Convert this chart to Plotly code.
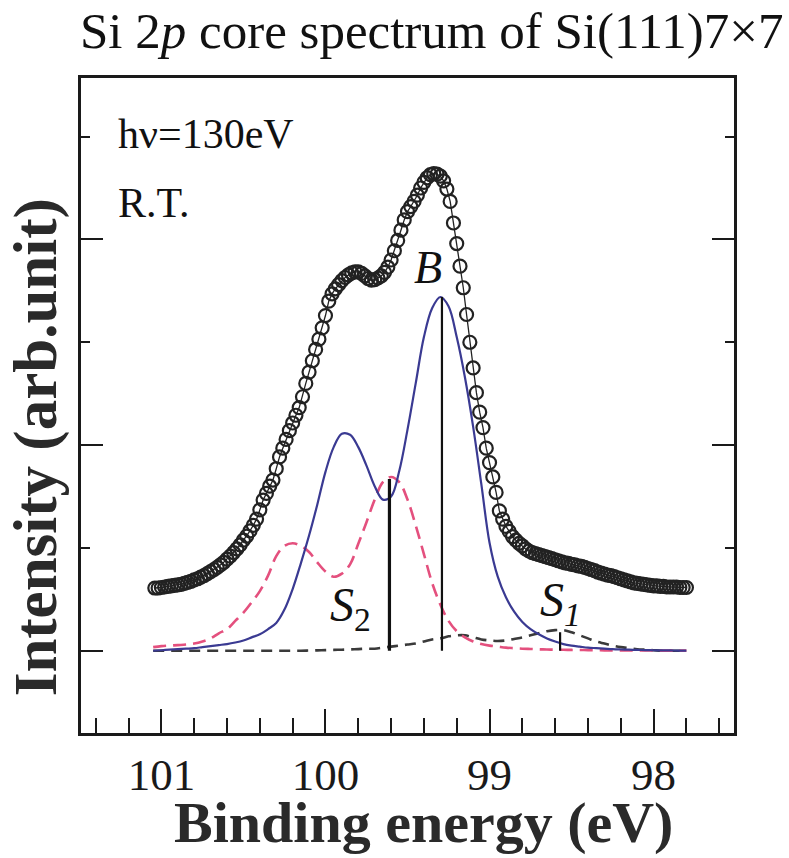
import plotly.graph_objects as go

# ---------------- data ----------------
# measured Si 2p spectrum (open circles); binding energy in eV, intensity in tick units
data_E = [101.04, 101.02, 101.00, 100.98, 100.96, 100.94, 100.92, 100.90, 100.88, 100.86,
          100.84, 100.82, 100.80, 100.78, 100.76, 100.74, 100.72, 100.70, 100.68, 100.66,
          100.64, 100.62, 100.60, 100.58, 100.56, 100.54, 100.52, 100.50, 100.48, 100.46,
          100.44, 100.42, 100.40, 100.38, 100.36, 100.34, 100.32, 100.30, 100.28, 100.26,
          100.24, 100.22, 100.20, 100.18, 100.16, 100.14, 100.12, 100.10, 100.08, 100.06,
          100.04, 100.02, 100.00, 99.98, 99.96, 99.94, 99.92, 99.90, 99.88, 99.86,
          99.84, 99.82, 99.80, 99.78, 99.76, 99.74, 99.72, 99.70, 99.68, 99.66,
          99.64, 99.62, 99.60, 99.58, 99.56, 99.54, 99.52, 99.50, 99.48, 99.46,
          99.44, 99.42, 99.40, 99.38, 99.36, 99.34, 99.32, 99.30, 99.28, 99.26,
          99.24, 99.22, 99.20, 99.18, 99.16, 99.14, 99.12, 99.10, 99.08, 99.06,
          99.04, 99.02, 99.00, 98.98, 98.96, 98.94, 98.92, 98.90, 98.88, 98.86,
          98.84, 98.82, 98.80, 98.78, 98.76, 98.74, 98.72, 98.70, 98.68, 98.66,
          98.64, 98.62, 98.60, 98.58, 98.56, 98.54, 98.52, 98.50, 98.48, 98.46,
          98.44, 98.42, 98.40, 98.38, 98.36, 98.34, 98.32, 98.30, 98.28, 98.26,
          98.24, 98.22, 98.20, 98.18, 98.16, 98.14, 98.12, 98.10, 98.08, 98.06,
          98.04, 98.02, 98.00, 97.98, 97.96, 97.94, 97.92, 97.90, 97.88, 97.86,
          97.84, 97.82, 97.80]
data_I = [0.61, 0.61, 0.615, 0.62, 0.625, 0.63, 0.635, 0.64, 0.645, 0.655,
          0.665, 0.675, 0.69, 0.70, 0.715, 0.73, 0.75, 0.77, 0.79, 0.81,
          0.835, 0.86, 0.89, 0.92, 0.955, 0.99, 1.03, 1.075, 1.115, 1.165,
          1.22, 1.28, 1.37, 1.465, 1.53, 1.60, 1.66, 1.77, 1.885, 1.97,
          2.055, 2.14, 2.215, 2.29, 2.365, 2.47, 2.60, 2.71, 2.82, 2.93,
          3.03, 3.14, 3.26, 3.40, 3.47, 3.52, 3.56, 3.60, 3.63, 3.655,
          3.675, 3.685, 3.685, 3.67, 3.645, 3.62, 3.605, 3.61, 3.625, 3.645,
          3.68, 3.73, 3.80, 3.89, 3.99, 4.09, 4.19, 4.27, 4.32, 4.37,
          4.43, 4.50, 4.555, 4.60, 4.63, 4.64, 4.635, 4.615, 4.57, 4.49,
          4.37, 4.16, 3.96, 3.74, 3.53, 3.27, 3.00, 2.75, 2.51, 2.32,
          2.17, 1.97, 1.83, 1.69, 1.54, 1.36, 1.28, 1.21, 1.16, 1.11,
          1.075, 1.045, 1.02, 0.99, 0.97, 0.955, 0.945, 0.935, 0.925, 0.915,
          0.905, 0.895, 0.885, 0.875, 0.865, 0.855, 0.85, 0.84, 0.835, 0.825,
          0.82, 0.81, 0.80, 0.79, 0.78, 0.765, 0.755, 0.745, 0.735, 0.73,
          0.72, 0.71, 0.70, 0.69, 0.68, 0.67, 0.66, 0.655, 0.65, 0.645,
          0.64, 0.635, 0.63, 0.63, 0.625, 0.625, 0.62, 0.62, 0.62, 0.62,
          0.615, 0.615, 0.615]

# fitted components, sampled every 0.05 eV
comp_E = [101.05, 101.00, 100.95, 100.90, 100.85, 100.80, 100.75, 100.70, 100.65, 100.60,
          100.55, 100.50, 100.45, 100.40, 100.35, 100.30, 100.25, 100.20, 100.15, 100.10,
          100.05, 100.00, 99.95, 99.90, 99.85, 99.80, 99.75, 99.70, 99.65, 99.60,
          99.55, 99.50, 99.45, 99.40, 99.35, 99.30, 99.25, 99.20, 99.15, 99.10,
          99.05, 99.00, 98.95, 98.90, 98.85, 98.80, 98.75, 98.70, 98.65, 98.60,
          98.55, 98.50, 98.45, 98.40, 98.35, 98.30, 98.25, 98.20, 98.15, 98.10,
          98.05, 98.00, 97.95, 97.90, 97.85, 97.80]
bulk_B = [0.00, 0.005, 0.01, 0.015, 0.02, 0.025, 0.035, 0.045, 0.055, 0.065,
          0.08, 0.10, 0.13, 0.16, 0.21, 0.27, 0.40, 0.60, 0.85, 1.12,
          1.42, 1.74, 1.98, 2.11, 2.10, 1.98, 1.80, 1.60, 1.47, 1.50,
          1.75, 2.15, 2.60, 3.05, 3.33, 3.44, 3.35, 3.05, 2.66, 2.18,
          1.62, 1.05, 0.72, 0.52, 0.38, 0.28, 0.21, 0.16, 0.12, 0.09,
          0.065, 0.05, 0.04, 0.03, 0.025, 0.02, 0.015, 0.012, 0.01, 0.008,
          0.006, 0.005, 0.004, 0.003, 0.002, 0.002]
surf_S2 = [0.035, 0.045, 0.05, 0.055, 0.06, 0.07, 0.09, 0.12, 0.17, 0.21,
           0.29, 0.37, 0.47, 0.58, 0.73, 0.92, 1.02, 1.045, 1.02, 0.96,
           0.86, 0.77, 0.72, 0.75, 0.84, 1.04, 1.25, 1.47, 1.64, 1.69,
           1.64, 1.47, 1.22, 0.94, 0.66, 0.45, 0.29, 0.19, 0.13, 0.09,
           0.065, 0.05, 0.04, 0.03, 0.025, 0.02, 0.017, 0.014, 0.012, 0.01,
           0.009, 0.008, 0.007, 0.006, 0.005, 0.004, 0.004, 0.003, 0.003, 0.002,
           0.002, 0.002, 0.001, 0.001, 0.001, 0.001]
surf_S1 = [0.0, 0.0, 0.0, 0.0, 0.0, 0.0, 0.0, 0.0, 0.0, 0.0,
           0.0, 0.0, 0.0, 0.0, 0.0, 0.0, 0.0, 0.0, 0.0, 0.002,
           0.004, 0.006, 0.008, 0.01, 0.013, 0.016, 0.02, 0.02, 0.03, 0.04,
           0.05, 0.06, 0.07, 0.09, 0.11, 0.12, 0.14, 0.15, 0.15, 0.13,
           0.11, 0.10, 0.095, 0.10, 0.115, 0.13, 0.15, 0.17, 0.19, 0.20,
           0.20, 0.18, 0.15, 0.12, 0.09, 0.07, 0.05, 0.035, 0.025, 0.015,
           0.01, 0.005, 0.0, 0.0, 0.0, 0.0]

# component position sticks
stick_names = ["S2", "B", "S1"]
stick_E = [99.61, 99.29, 98.57]
stick_h = [1.67, 3.44, 0.18]
stick_w = [3.2, 2.2, 2.2]

x_tickvals = [101, 100, 99, 98]
x_ticktext = ["101", "100", "99", "98"]

# ---------------- figure ----------------
SERIF = "Liberation Serif"
fig = go.Figure()

fig.add_trace(go.Scatter(x=comp_E, y=surf_S1, mode="lines",
                         line=dict(color="#3a3a3a", width=2.6, dash="11px,7px", shape="spline"),
                         hoverinfo="skip"))
fig.add_trace(go.Scatter(x=comp_E, y=surf_S2, mode="lines",
                         line=dict(color="#e4507e", width=2.6, dash="13px,7px", shape="spline"),
                         hoverinfo="skip"))
fig.add_trace(go.Scatter(x=comp_E, y=bulk_B, mode="lines",
                         line=dict(color="#3a3a92", width=2.2, shape="spline"),
                         hoverinfo="skip"))
for e, h, w in zip(stick_E, stick_h, stick_w):
    fig.add_trace(go.Scatter(x=[e, e], y=[0, h], mode="lines",
                             line=dict(color="#111111", width=w), hoverinfo="skip"))
fig.add_trace(go.Scatter(x=data_E, y=data_I, mode="lines+markers",
                         line=dict(color="#222222", width=1.3),
                         marker=dict(symbol="circle-open", size=13,
                                     line=dict(color="#57576e", width=2.2)),
                         hoverinfo="skip"))

# labels inside the plot
fig.add_annotation(x=99.376, y=3.73, xref="x", yref="y", text="<i>B</i>", showarrow=False,
                   xanchor="center", yanchor="middle",
                   font=dict(family=SERIF, size=46, color="#111"))
fig.add_annotation(x=99.85, y=0.42, xref="x", yref="y", text="<i>S</i><sub>2</sub>",
                   showarrow=False, xanchor="center", yanchor="middle",
                   font=dict(family=SERIF, size=48, color="#111"))
fig.add_annotation(x=98.565, y=0.46, xref="x", yref="y", text="<i>S</i><sub><i>1</i></sub>",
                   showarrow=False, xanchor="center", yanchor="middle",
                   font=dict(family=SERIF, size=48, color="#111"))
fig.add_annotation(x=0.054, y=0.915, xref="paper", yref="paper", xanchor="left",
                   yanchor="middle", text="hν=130eV", showarrow=False,
                   font=dict(family=SERIF, size=42, color="#111"))
fig.add_annotation(x=0.054, y=0.809, xref="paper", yref="paper", xanchor="left",
                   yanchor="middle", text="R.T.", showarrow=False,
                   font=dict(family=SERIF, size=42, color="#111"))

# titles
fig.add_annotation(x=0.537, y=1.0718, xref="paper", yref="paper",
                   xanchor="center", yanchor="middle",
                   text="Si 2<i>p</i> core spectrum of Si(111)7×7", showarrow=False,
                   font=dict(family=SERIF, size=51, color="#111"))
fig.add_annotation(x=0.525, y=-0.137, xref="paper", yref="paper",
                   xanchor="center", yanchor="middle",
                   text="Binding energy (eV)", showarrow=False,
                   font=dict(family=SERIF, size=58, color="#2a2a2a", weight=700))
fig.add_annotation(x=-0.069, y=0.436, xref="paper", yref="paper",
                   xanchor="center", yanchor="middle",
                   text="Intensity (arb.unit)", showarrow=False, textangle=-90,
                   font=dict(family=SERIF, size=61, color="#2a2a2a", weight=700))

fig.update_layout(
    width=789, height=858,
    margin=dict(l=81, r=55, t=78, b=125),
    paper_bgcolor="white", plot_bgcolor="white",
    showlegend=False,
    xaxis=dict(range=[101.49, 97.51], showgrid=False, zeroline=False,
               showline=True, linecolor="#1a1a1a", linewidth=2.5, mirror=True,
               ticks="inside", ticklen=24, tickwidth=2.2, tickcolor="#1a1a1a",
               tickvals=x_tickvals, ticktext=x_ticktext,
               minor=dict(dtick=0.2, tick0=0, ticks="inside", ticklen=15,
                          tickwidth=2.2, tickcolor="#1a1a1a", showgrid=False),
               tickfont=dict(family=SERIF, size=45, color="#1a1a1a"),
               ticklabelstandoff=0),
    yaxis=dict(range=[-0.80, 5.57], showgrid=False, zeroline=False,
               showline=True, linecolor="#1a1a1a", linewidth=2.5, mirror="ticks",
               ticks="inside", ticklen=22, tickwidth=2.2, tickcolor="#1a1a1a",
               dtick=2, tick0=0, showticklabels=False,
               minor=dict(dtick=1, tick0=0, ticks="inside", ticklen=9,
                          tickwidth=2.2, tickcolor="#1a1a1a", showgrid=False)),
)

fig.write_html("out.html")
